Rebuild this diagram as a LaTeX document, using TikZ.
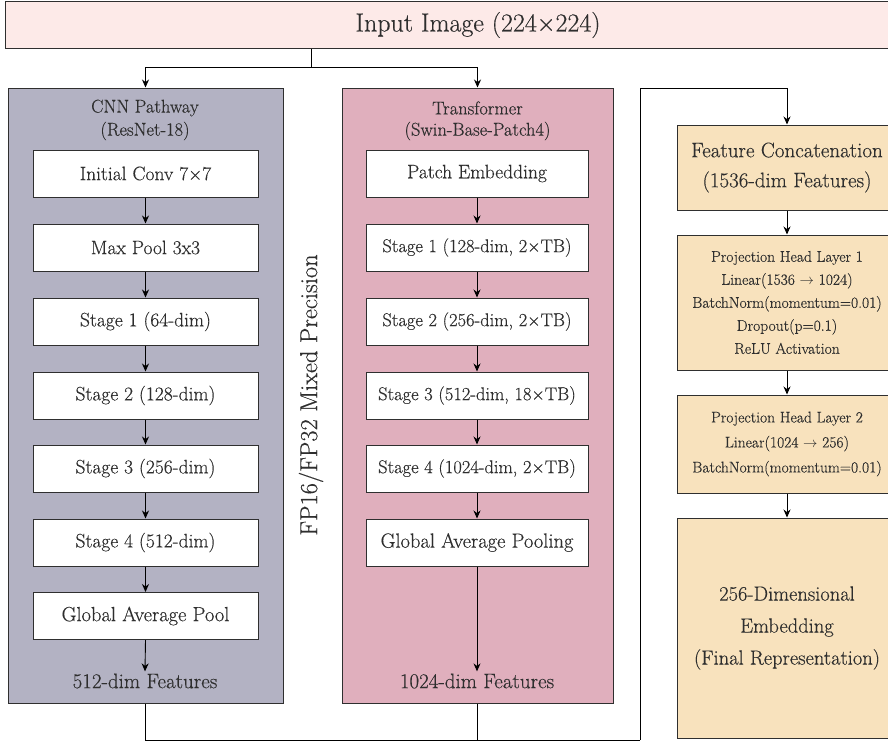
\documentclass[tikz,border=0pt]{standalone}
\usepackage{fontspec}
\setmainfont{Latin Modern Roman}[FakeBold=0.35]
\usetikzlibrary{arrows.meta}
\definecolor{inputc}{HTML}{FDEAE8}
\definecolor{cnnc}{HTML}{B3B2C3}
\definecolor{trc}{HTML}{E0AFBD}
\definecolor{headc}{HTML}{F8E2BD}
\definecolor{edgec}{HTML}{2F2F2F}
\definecolor{txtc}{HTML}{2E2E2E}
\tikzset{
  arr/.style={-{Stealth[length=8pt,width=7pt]}, line width=0.9pt, black},
  conn/.style={line width=0.9pt, black},
  panel/.style={draw=edgec, line width=1pt, fill=#1, inner sep=0pt},
  inbox/.style={draw=edgec, line width=1pt, fill=white, minimum width=225pt, minimum height=47pt, inner sep=0pt, text=txtc, font=\fontsize{19.5}{22}\selectfont},
  tbox/.style={inbox, minimum width=222pt, font=\fontsize{18.5}{22}\selectfont},
  headbox/.style={draw=edgec, line width=1pt, fill=headc, minimum width=220pt, inner sep=0pt, text=txtc, align=center},
  lbl/.style={text=txtc, inner sep=2pt, font=\fontsize{21}{24}\selectfont},
  ttl/.style={text=txtc, inner sep=0pt, font=\fontsize{18.5}{21}\selectfont},
}
\begin{document}
\begin{tikzpicture}[x=1pt,y=-1pt]
\useasboundingbox (0,0) rectangle (888,742);
\clip (0,0) rectangle (888,742);
\fill[white] (0,0) rectangle (888,742);

% input
\node[panel=inputc, minimum width=946pt, minimum height=47pt, text=txtc, font=\fontsize{26}{30}\selectfont] (input) at (478,25) {Input Image (224×224)};

% CNN panel
\node[panel=cnnc, minimum width=275pt, minimum height=615pt] (cnn) at (145.5,395.5) {};
\node[ttl] (cnnt1) at (145,108) {CNN Pathway};
\node[ttl] (cnnt2) at (145,131) {(ResNet-18)};
\node[inbox] (c1) at (145.5,173.5) {Initial Conv 7×7};
\node[inbox] (c2) at (145.5,247.5) {Max Pool 3x3};
\node[inbox] (c3) at (145.5,321.5) {Stage 1 (64-dim)};
\node[inbox] (c4) at (145.5,395.5) {Stage 2 (128-dim)};
\node[inbox] (c5) at (145.5,468.5) {Stage 3 (256-dim)};
\node[inbox] (c6) at (145.5,542.5) {Stage 4 (512-dim)};
\node[inbox, font=\fontsize{20.5}{22}\selectfont] (c7) at (145.5,616) {Global Average Pool};
\node[lbl] (cf) at (145,681) {512-dim Features};
\foreach \a/\b in {c1/c2,c2/c3,c3/c4,c4/c5,c5/c6,c6/c7,c7/cf}
  \draw[arr] (\a.south) -- (\b.north);

% Transformer panel
\node[panel=trc, minimum width=271pt, minimum height=615pt] (tr) at (477.5,395.5) {};
\node[ttl] (trt1) at (477.5,108) {Transformer};
\node[ttl] (trt2) at (477.5,131) {(Swin-Base-Patch4)};
\node[tbox, font=\fontsize{19.5}{22}\selectfont] (t1) at (477,173.5) {Patch Embedding};
\node[tbox] (t2) at (477,247.5) {Stage 1 (128-dim, 2×TB)};
\node[tbox] (t3) at (477,321.5) {Stage 2 (256-dim, 2×TB)};
\node[tbox] (t4) at (477,395.5) {Stage 3 (512-dim, 18×TB)};
\node[tbox] (t5) at (477,468.5) {Stage 4 (1024-dim, 2×TB)};
\node[tbox, font=\fontsize{20.5}{22}\selectfont] (t6) at (477,542.5) {Global Average Pooling};
\node[lbl] (tf) at (477,681) {1024-dim Features};
\foreach \a/\b in {t1/t2,t2/t3,t3/t4,t4/t5,t5/t6,t6/tf}
  \draw[arr] (\a.south) -- (\b.north);

% mixed precision label
\node[text=txtc, rotate=90, font=\fontsize{24.5}{28}\selectfont] (mp) at (311,395) {FP16/FP32 Mixed Precision};

% split from input
\coordinate (split) at (311,67);
\draw[conn] (input.south -| split) -- (split);
\draw[arr] (split) -| (cnn.north);
\draw[arr] (split) -| (tr.north);

% right column
\node[headbox, minimum height=85pt, font=\fontsize{21}{30}\selectfont] (cat) at (787,167.5) {Feature Concatenation\\(1536-dim Features)};
\node[headbox, minimum height=135pt, font=\fontsize{15.5}{23}\selectfont] (ph1) at (787,302.5) {Projection Head Layer 1\\Linear(1536 $\rightarrow$ 1024)\\BatchNorm(momentum=0.01)\\Dropout(p=0.1)\\ReLU Activation};
\node[headbox, minimum height=98pt, font=\fontsize{15.5}{25}\selectfont] (ph2) at (787,444) {Projection Head Layer 2\\Linear(1024 $\rightarrow$ 256)\\BatchNorm(momentum=0.01)};
\node[headbox, minimum height=220pt, font=\fontsize{20.5}{32}\selectfont] (emb) at (787,628) {256-Dimensional\\Embedding\\(Final Representation)};
\draw[arr] (cat.south) -- (ph1.north);
\draw[arr] (ph1.south) -- (ph2.north);
\draw[arr] (ph2.south) -- (emb.north);

% merge
\coordinate (bl) at (640,740);
\coordinate (tl) at (640,88);
\draw[conn] (cnn.south) |- (bl);
\draw[conn] (tr.south) -- (tr.south |- bl);
\draw[arr] (bl) -- (tl) -| (cat.north);
\end{tikzpicture}
\end{document}
